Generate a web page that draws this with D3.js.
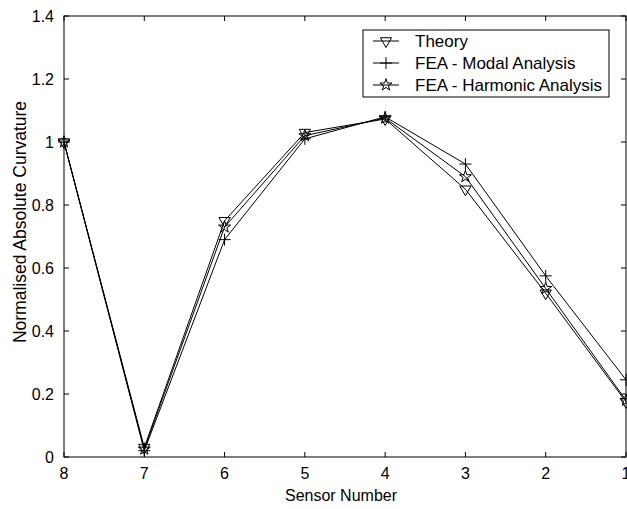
<!DOCTYPE html>
<html>
<head>
<meta charset="utf-8">
<script src="https://cdn.jsdelivr.net/npm/d3@7"></script>
<style>
  html, body { margin: 0; padding: 0; background: #fff; }
  svg { display: block; }
  text { font-family: "Liberation Sans", Arial, Helvetica, sans-serif; fill: #000; }
</style>
</head>
<body>
<svg id="chart" width="627" height="509"></svg>
<script>
// Sensor positions along the beam (axis runs from 8 down to 1)
const sensors = [8, 7, 6, 5, 4, 3, 2, 1];
const yTicks = [0, 0.2, 0.4, 0.6, 0.8, 1, 1.2, 1.4];

// Normalised absolute curvature at each sensor
const theory   = [1.00, 0.03, 0.75, 1.03, 1.073, 0.85, 0.52, 0.175];
const modal    = [1.00, 0.02, 0.69, 1.01, 1.08, 0.93, 0.575, 0.245];
const harmonic = [1.00, 0.025, 0.73, 1.02, 1.076, 0.89, 0.535, 0.18];

const seriesNames = ["Theory", "FEA - Modal Analysis", "FEA - Harmonic Analysis"];
const seriesData = [theory, modal, harmonic];
const markerKinds = ["triangle", "plus", "star"];

const svg = d3.select("#chart");
const plotLeft = 64, plotRight = 626, plotTop = 16, plotBottom = 457;

const x = d3.scaleLinear().domain([8, 1]).range([plotLeft, plotRight]);
const y = d3.scaleLinear().domain([0, 1.4]).range([plotBottom, plotTop]);

// Frame with inward ticks on all four sides
const frame = svg.append("g").attr("stroke", "#000").attr("stroke-width", 1).attr("fill", "none");
frame.append("rect").attr("x", plotLeft).attr("y", plotTop)
  .attr("width", plotRight - plotLeft).attr("height", plotBottom - plotTop);

const tickLen = 5;
sensors.forEach(s => {
  frame.append("line").attr("x1", x(s)).attr("x2", x(s)).attr("y1", plotBottom).attr("y2", plotBottom - tickLen);
  frame.append("line").attr("x1", x(s)).attr("x2", x(s)).attr("y1", plotTop).attr("y2", plotTop + tickLen);
});
yTicks.forEach(v => {
  frame.append("line").attr("x1", plotLeft).attr("x2", plotLeft + tickLen).attr("y1", y(v)).attr("y2", y(v));
  frame.append("line").attr("x1", plotRight).attr("x2", plotRight - tickLen).attr("y1", y(v)).attr("y2", y(v));
});

// Tick labels
const fmtY = d => (d === 0 || d === 1) ? String(d) : d3.format(".1f")(d);
svg.append("g").selectAll("text").data(sensors).join("text")
  .attr("x", d => x(d)).attr("y", plotBottom + 22)
  .attr("text-anchor", "middle").attr("font-size", 16)
  .text(d => d);
svg.append("g").selectAll("text").data(yTicks).join("text")
  .attr("x", plotLeft - 10).attr("y", d => y(d) + 6)
  .attr("text-anchor", "end").attr("font-size", 16)
  .text(fmtY);

// Axis titles
svg.append("text").attr("x", (plotLeft + plotRight) / 2 - 4).attr("y", 501)
  .attr("text-anchor", "middle").attr("font-size", 16).text("Sensor Number");
svg.append("text")
  .attr("transform", "translate(26,222) rotate(-90)")
  .attr("text-anchor", "middle").attr("font-size", 17.5).text("Normalised Absolute Curvature");

// Marker shapes
function drawMarker(g, kind, cx, cy) {
  if (kind === "triangle") {
    g.append("path")
      .attr("d", d3.symbol(d3.symbolTriangle, 55)())
      .attr("transform", `translate(${cx},${cy}) rotate(180)`)
      .attr("fill", "none").attr("stroke", "#000");
  } else if (kind === "plus") {
    g.append("path")
      .attr("d", `M${cx - 6},${cy}H${cx + 6}M${cx},${cy - 6}V${cy + 6}`)
      .attr("fill", "none").attr("stroke", "#000");
  } else {
    g.append("path")
      .attr("d", d3.symbol(d3.symbolStar, 45)())
      .attr("transform", `translate(${cx},${cy})`)
      .attr("fill", "none").attr("stroke", "#000");
  }
}

// Curves
const line = d3.line().x((d, i) => x(sensors[i])).y(d => y(d));
const plot = svg.append("g");
seriesData.forEach((vals, k) => {
  plot.append("path").datum(vals).attr("d", line)
    .attr("fill", "none").attr("stroke", "#000").attr("stroke-width", 1);
  vals.forEach((v, i) => drawMarker(plot, markerKinds[k], x(sensors[i]), y(v)));
});

// Legend
const lg = svg.append("g");
const lgX = 363, lgY = 30, lgW = 246, lgH = 67;
lg.append("rect").attr("x", lgX).attr("y", lgY).attr("width", lgW).attr("height", lgH)
  .attr("fill", "#fff").attr("stroke", "#000");
seriesNames.forEach((name, k) => {
  const ry = lgY + 11 + k * 22;
  lg.append("line").attr("x1", lgX + 10).attr("x2", lgX + 36).attr("y1", ry).attr("y2", ry)
    .attr("stroke", "#000");
  drawMarker(lg, markerKinds[k], lgX + 23, ry);
  lg.append("text").attr("x", lgX + 52).attr("y", ry + 6).attr("font-size", 17).text(name);
});
</script>
</body>
</html>
